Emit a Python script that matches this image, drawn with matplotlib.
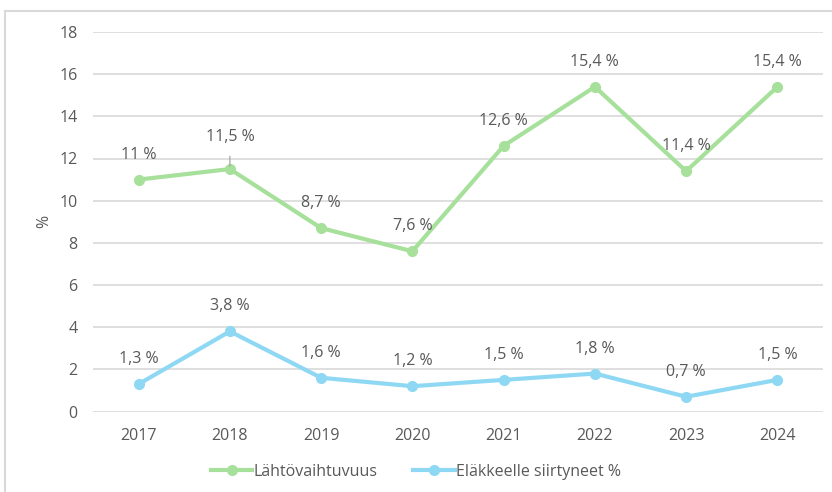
import matplotlib
matplotlib.use("Agg")
import matplotlib.pyplot as plt
from matplotlib.lines import Line2D

# DATA

years = ["2017", "2018", "2019", "2020", "2021", "2022", "2023", "2024"]
lahto = [11.0, 11.5, 8.7, 7.6, 12.6, 15.4, 11.4, 15.4]
elake = [1.3, 3.8, 1.6, 1.2, 1.5, 1.8, 0.7, 1.5]

lahto_labels = ["11 %", "11,5 %", "8,7 %", "7,6 %", "12,6 %", "15,4 %", "11,4 %", "15,4 %"]
elake_labels = ["1,3 %", "3,8 %", "1,6 %", "1,2 %", "1,5 %", "1,8 %", "0,7 %", "1,5 %"]

series_names = ["Lähtövaihtuvuus", "Eläkkeelle siirtyneet %"]

# STYLE

green = "#A7E09B"
blue = "#8ED8F4"
text_col = "#595959"
grid_col = "#D9D9D9"
fs = 11.5

plt.rcParams["font.family"] = ["Open Sans", "DejaVu Sans"]

fig = plt.figure(figsize=(8.32, 4.92), dpi=100)
ax = fig.add_axes([93 / 832, 1 - 411.5 / 492, 730 / 832, (411.5 - 32) / 492])

x = list(range(len(years)))

ax.plot(x, lahto, color=green, lw=3, marker="o", ms=7, solid_capstyle="round",
        label=series_names[0], zorder=3)
ax.plot(x, elake, color=blue, lw=3, marker="o", ms=7, solid_capstyle="round",
        label=series_names[1], zorder=3)

# data labels
for i, (v, s) in enumerate(zip(lahto, lahto_labels)):
    if i == 1:
        ax.annotate(s, xy=(i, v), xytext=(0, 23), textcoords="offset points",
                    ha="center", va="center", fontsize=fs, color=text_col,
                    arrowprops=dict(arrowstyle="-", color="#A6A6A6", lw=0.9,
                                    shrinkA=6, shrinkB=2))
    else:
        ax.annotate(s, xy=(i, v), xytext=(0, 18), textcoords="offset points",
                    ha="center", va="center", fontsize=fs, color=text_col)

for i, (v, s) in enumerate(zip(elake, elake_labels)):
    ax.annotate(s, xy=(i, v), xytext=(0, 18), textcoords="offset points",
                ha="center", va="center", fontsize=fs, color=text_col)

ax.set_xlim(-0.5, len(years) - 0.5)
ax.set_ylim(0, 18)
ax.set_yticks(range(0, 19, 2))
ax.set_xticks(x)
ax.set_xticklabels(years)

ax.grid(axis="y", color=grid_col, lw=1.2)
ax.set_axisbelow(True)
for sp in ax.spines.values():
    sp.set_visible(False)
ax.tick_params(length=0, colors=text_col, labelsize=fs)
ax.tick_params(axis="x", pad=12)
ax.tick_params(axis="y", pad=11)

ax.set_ylabel("%", color=text_col, fontsize=fs, labelpad=5)

handles = [Line2D([0], [0], color=green, lw=3, marker="o", ms=7),
           Line2D([0], [0], color=blue, lw=3, marker="o", ms=7)]
fig.legend(handles, series_names, loc="center", bbox_to_anchor=(0.5, 1 - 472 / 492),
           ncol=2, frameon=False, fontsize=fs, labelcolor=text_col,
           handlelength=2.6, handletextpad=0.1, columnspacing=2.2)

# outer frame (top and left edges only)
fig.add_artist(Line2D([4.5 / 832, 4.5 / 832], [0, 1 - 10.5 / 492],
                      transform=fig.transFigure, color=grid_col, lw=1.5))
fig.add_artist(Line2D([4.5 / 832, 1], [1 - 10.5 / 492, 1 - 10.5 / 492],
                      transform=fig.transFigure, color=grid_col, lw=1.5))

fig.savefig("out.png", dpi=100)
